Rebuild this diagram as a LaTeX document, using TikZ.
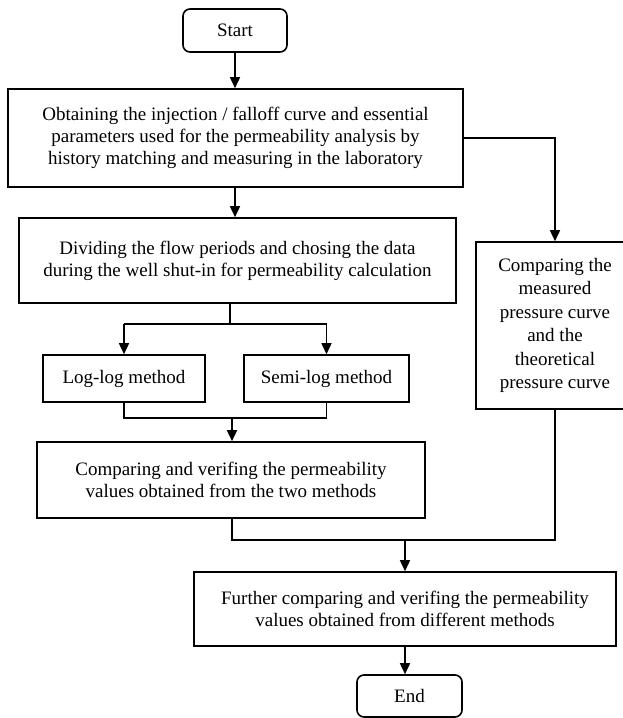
\documentclass[tikz,border=0pt]{standalone}
\usepackage{fontspec}
\setmainfont{Liberation Serif}
\usetikzlibrary{arrows.meta,calc}
\begin{document}
\begin{tikzpicture}[x=1pt,y=-1pt,
  every node/.style={font=\fontsize{19}{22}\selectfont},
  procbox/.style={draw,line width=1.6pt,align=center,inner sep=0pt},
  termbox/.style={draw,line width=1.6pt,rounded corners=7pt,inner sep=0pt},
  conn/.style={line width=1.6pt},
  arr/.style={line width=1.6pt,-{Triangle[length=11pt,width=10pt]}}]
\useasboundingbox (0,0) rectangle (623,718);
\node[termbox,minimum width=104pt,minimum height=43pt] (start) at (235,30.5) {Start};
\node[procbox,minimum width=455pt,minimum height=98pt] (b1) at (235.5,138) {Obtaining the injection / falloff curve and essential\\parameters used for the permeability analysis by\\history matching and measuring in the laboratory};
\node[procbox,minimum width=437pt,minimum height=85pt] (b2) at (237.5,260.5) {Dividing the flow periods and chosing the data\\during the well shut-in for permeability calculation};
\node[procbox,minimum width=162pt,minimum height=47pt] (log) at (124,378.5) {Log-log method};
\node[procbox,minimum width=165pt,minimum height=47pt] (semi) at (326.5,378.5) {Semi-log method};
\node[procbox,minimum width=388pt,minimum height=76pt] (b3) at (231,480) {Comparing and verifing the permeability\\values obtained from the two methods};
\node[procbox,minimum width=158pt,minimum height=167pt,font=\fontsize{19}{23.5}\selectfont] (right) at (555,325.5) {Comparing the\\measured\\pressure curve\\and the\\theoretical\\pressure curve};
\node[procbox,minimum width=422pt,minimum height=74pt] (b4) at (405,609) {Further comparing and verifing the permeability\\values obtained from different methods};
\node[termbox,minimum width=105pt,minimum height=42pt] (end) at (409.5,696) {End};
\coordinate (split) at (230,324);
\coordinate (merge) at (232,418);
\coordinate (join) at (405,540);
\coordinate (drop) at (232,540);
\draw[arr] (start.south) -- (start.south |- b1.north);
\draw[arr] (b1.east) -| (right.north);
\draw[arr] (b1.south -| start.south) -- (start.south |- b2.north);
\draw[conn] (split |- b2.south) -- (split);
\draw[conn] (log.north |- split) -- (semi.north |- split);
\draw[arr] (log.north |- split) -- (log.north);
\draw[arr] (semi.north |- split) -- (semi.north);
\draw[conn] (log.south) -- (log.south |- merge) -- (semi.south |- merge) -- (semi.south);
\draw[arr] (merge) -- (merge |- b3.north);
\draw[conn] (drop |- b3.south) -- (drop) -- (right.south |- drop) -- (right.south);
\draw[arr] (join) -- (join |- b4.north);
\draw[arr] (b4.south) -- (b4.south |- end.north);
\end{tikzpicture}
\end{document}
